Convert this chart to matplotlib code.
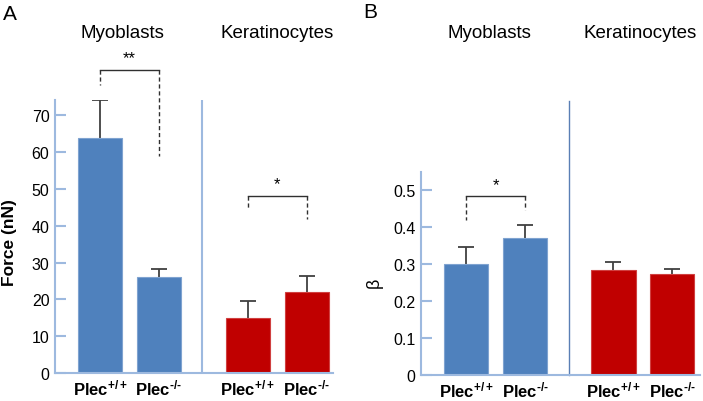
# Force and beta of Plec+/+ vs Plec-/- myoblasts and keratinocytes

import numpy as np
import matplotlib
matplotlib.use("Agg")
import matplotlib.pyplot as plt

plt.rcParams['font.family'] = ['Liberation Sans', 'DejaVu Sans']
plt.rcParams['mathtext.fontset'] = 'custom'
plt.rcParams['mathtext.rm'] = 'Liberation Sans'
plt.rcParams['mathtext.bf'] = 'Liberation Sans:bold'

groups = ['Myoblasts', 'Keratinocytes']
genotypes = [r'$\mathbf{Plec^{+/+}}$', '$\\mathbf{Plec^{\u2010/\u2010}}$']

force = [64, 26, 15, 22]
force_err = [10.2, 2.2, 4.7, 4.3]
beta = [0.300, 0.370, 0.283, 0.274]
beta_err = [0.045, 0.035, 0.022, 0.011]

blue = '#4F81BD'
red = '#C00000'
axcol = '#9DB9DF'
colors = [blue, blue, red, red]
edges = ['#7FA3D0', '#7FA3D0', '#D04040', '#D04040']

W, H = 703, 402
fig = plt.figure(figsize=(W/100, H/100), dpi=100)


def panel(rect, xpos, vals, errs, ylim, yticks, fmt):
    ax = fig.add_axes([rect[0]/W, 1 - rect[3]/H, (rect[2]-rect[0])/W, (rect[3]-rect[1])/H])
    ax.bar(xpos, vals, width=0.75, color=colors, edgecolor=edges, linewidth=0.8, zorder=2)
    _, caps, _ = ax.errorbar(xpos, vals, yerr=[np.zeros(len(vals)), errs], fmt='none',
                             ecolor='#404040', elinewidth=1.3, capsize=5.5,
                             capthick=1.3, zorder=1)
    caps[0].set_visible(False)
    ax.set_xlim(-0.77, 3.97)
    ax.set_ylim(*ylim)
    for s in ['top', 'right']:
        ax.spines[s].set_visible(False)
    for s in ['left', 'bottom']:
        ax.spines[s].set_color(axcol)
        ax.spines[s].set_linewidth(1.5)
    ax.set_yticks(yticks)
    ax.set_yticklabels([fmt(v) for v in yticks])
    ax.tick_params(axis='y', direction='in', length=8, width=1.5, color=axcol,
                   labelsize=11.5, pad=4)
    ax.set_xticks(xpos)
    ax.set_xticklabels(genotypes * 2)
    ax.tick_params(axis='x', length=0, labelsize=12, pad=3)
    return ax


def bracket(ax, x1, x2, top, l1, l2, label, star_y):
    ax.plot([x1, x2], [top, top], color='#303030', lw=1, clip_on=False)
    ax.plot([x1, x1], [top, l1], color='#303030', lw=1, ls=(0, (3, 2)), clip_on=False)
    ax.plot([x2, x2], [top, l2], color='#303030', lw=1, ls=(0, (3, 2)), clip_on=False)
    ax.text((x1 + x2) / 2, star_y, label, ha='center', va='center', fontsize=12,
            clip_on=False)


# Panel A
xa = np.r_[np.arange(2), np.arange(2) + 2.52]
axA = panel((55, 101, 333, 374), xa, force, force_err, (0, 74.2),
            np.arange(0, 71, 10), lambda v: '%d' % v)
axA.axvline(1.74, color=axcol, lw=1.5)
bracket(axA, xa[0], xa[1], 82.3, 78.4, 59, '**', 85.6)
bracket(axA, xa[2], xa[3], 48, 44.5, 41.8, '*', 51.5)

# Panel B
xb = np.r_[np.arange(2), np.arange(2) + 2.5]
axB = panel((421, 173, 700, 376), xb, beta, beta_err, (0, 0.548),
            np.arange(0, 0.51, 0.1), lambda v: '0' if v == 0 else '%.1f' % v)
axB.plot([1.74, 1.74], [0, 0.74], color='#5A7FB5', lw=1, clip_on=False)
bracket(axB, xb[0], xb[1], 0.484, 0.419, 0.446, '*', 0.515)

# group titles and panel letters
for xc, name in zip([122, 277], groups):
    fig.text(xc/W, 1 - 33/H, name, ha='center', va='center', fontsize=13.5)
for xc, name in zip([489, 640], groups):
    fig.text(xc/W, 1 - 33/H, name, ha='center', va='center', fontsize=13.5)
fig.text(3/W, 1 - 15/H, 'A', ha='left', va='center', fontsize=15)
fig.text(363/W, 1 - 13/H, 'B', ha='left', va='center', fontsize=15)

fig.text(10/W, 1 - 243/H, 'Force (nN)', rotation=90, ha='center', va='center',
         fontsize=12.5, fontweight='bold')
fig.text(374/W, 1 - 283/H, 'β', rotation=90, ha='center', va='center', fontsize=13)

fig.savefig('out.png', dpi=100)
